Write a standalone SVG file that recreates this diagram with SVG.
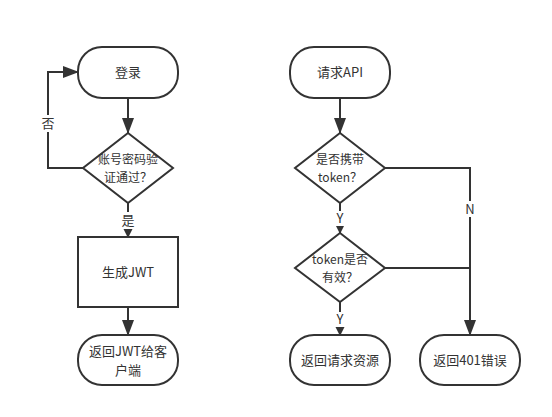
<svg xmlns="http://www.w3.org/2000/svg" width="552" height="417" viewBox="0 0 552 417">
<style>
.s{fill:#fff;stroke:#333;stroke-width:2}
.c{fill:none;stroke:#333;stroke-width:2}
.t{font-family:"Noto Sans CJK SC","Noto Sans",sans-serif;font-size:13px;fill:#333;text-anchor:middle}
.d{font-size:12px}
.lb{fill:#fff}
</style>
<defs>
<marker id="a" markerWidth="10" markerHeight="10" refX="9" refY="5" orient="auto" markerUnits="userSpaceOnUse" viewBox="0 0 10 10">
<path d="M0,0 L10,5 L0,10 Z" fill="#333"/>
</marker>
<marker id="b" markerWidth="16" markerHeight="16" refX="15" refY="6" orient="auto" markerUnits="userSpaceOnUse" viewBox="0 0 16 12">
<path d="M0,0 L16,6 L0,12 Z" fill="#333"/>
</marker>
</defs>
<g id="edges">
<path class="c" d="M128,98 V133" marker-end="url(#b)"/>
<path class="c" d="M83,168 H48 V72 H78" marker-end="url(#b)"/>
<path class="c" d="M128,203 V237" marker-end="url(#a)"/>
<path class="c" d="M128,307 V335" marker-end="url(#b)"/>
<path class="c" d="M340,98 V133" marker-end="url(#b)"/>
<path class="c" d="M340,203 V233" marker-end="url(#a)"/>
<path class="c" d="M340,302 V335" marker-end="url(#a)"/>
<path class="c" d="M385,168 H470 V335" marker-end="url(#b)"/>
<path class="c" d="M385,268 H470"/>
<rect class="lb" x="40" y="115" width="16" height="17"/>
<text class="t" x="48" y="128">否</text>
<rect class="lb" x="120" y="212" width="16" height="17"/>
<text class="t" x="128" y="225">是</text>
<rect class="lb" x="334" y="211" width="12" height="15"/>
<text class="t" x="340" y="223">Y</text>
<rect class="lb" x="334" y="312" width="12" height="15"/>
<text class="t" x="340" y="324">Y</text>
<rect class="lb" x="463" y="201" width="14" height="16"/>
<text class="t" x="470" y="214">N</text>
</g>
<g id="login">
<rect class="s" x="78" y="47" width="100" height="51" rx="24"/>
<text class="t" x="128" y="77">登录</text>
</g>
<g id="verify">
<path class="s" d="M128,133 L173,168 L128,203 L83,168 Z"/>
<text class="t d" x="128" y="164">账号密码验</text>
<text class="t d" x="128" y="182">证通过？</text>
</g>
<g id="genjwt">
<rect class="s" x="78" y="237" width="100" height="70"/>
<text class="t" x="128" y="277">生成JWT</text>
</g>
<g id="returnjwt">
<rect class="s" x="78" y="335" width="100" height="50" rx="24"/>
<text class="t" x="128" y="356">返回JWT给客</text>
<text class="t" x="128" y="375">户端</text>
</g>
<g id="request">
<rect class="s" x="290" y="47" width="100" height="51" rx="24"/>
<text class="t" x="340" y="77">请求API</text>
</g>
<g id="hastoken">
<path class="s" d="M340,133 L385,168 L340,203 L295,168 Z"/>
<text class="t d" x="340" y="164">是否携带</text>
<text class="t d" x="340" y="182">token？</text>
</g>
<g id="valid">
<path class="s" d="M340,233 L385,268 L340,302 L295,268 Z"/>
<text class="t d" x="340" y="264">token是否</text>
<text class="t d" x="340" y="282">有效？</text>
</g>
<g id="resource">
<rect class="s" x="290" y="335" width="100" height="50" rx="24"/>
<text class="t" x="340" y="365">返回请求资源</text>
</g>
<g id="err401">
<rect class="s" x="420" y="335" width="100" height="50" rx="24"/>
<text class="t" x="470" y="365">返回401错误</text>
</g>
</svg>
